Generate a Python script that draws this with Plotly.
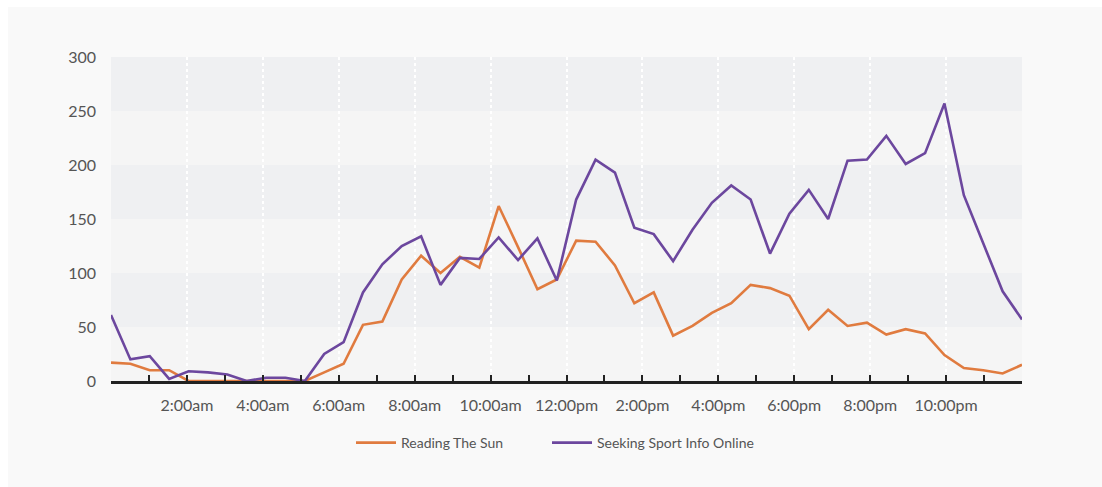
import plotly.graph_objects as go

# Half-hourly readings across the day (48 samples spanning midnight to midnight)
n_samples = 48
hours = [i * 24 / (n_samples - 1) for i in range(n_samples)]

reading_the_sun = [17, 16, 10, 10, 0, 0, 0, 0, 0, 0, 0, 8, 16, 52, 55, 94,
                   116, 100, 115, 105, 162, 124, 85, 94, 130, 129, 107, 72, 82, 42, 51, 63,
                   72, 89, 86, 79, 48, 66, 51, 54, 43, 48, 44, 24, 12, 10, 7, 15]

seeking_sport_online = [61, 20, 23, 2, 9, 8, 6, 0, 3, 3, 0, 25, 36, 82, 108, 125,
                        134, 89, 114, 113, 133, 112, 132, 93, 168, 205, 193, 142, 136, 111, 140, 165,
                        181, 168, 118, 155, 177, 150, 204, 205, 227, 201, 211, 257, 172, 127, 83, 57]

tick_hours = list(range(0, 26, 2))
tick_labels = ["", "2:00am", "4:00am", "6:00am", "8:00am", "10:00am", "12:00pm",
               "2:00pm", "4:00pm", "6:00pm", "8:00pm", "10:00pm", ""]
y_ticks = [0, 50, 100, 150, 200, 250, 300]

ORANGE = "#e07b3f"
PURPLE = "#6c479e"
TEXT = "#555555"
FONT = "Lato"

W, H = 1102, 487
ML, MR, MT, MB = 111, 80, 57, 106
pw, ph = W - ML - MR, H - MT - MB

fig = go.Figure()
fig.add_trace(go.Scatter(x=hours, y=reading_the_sun, mode="lines", name="Reading The Sun",
                         line=dict(color=ORANGE, width=2.6), legend="legend"))
fig.add_trace(go.Scatter(x=hours, y=seeking_sport_online, mode="lines", name="Seeking Sport Info Online",
                         line=dict(color=PURPLE, width=2.6), legend="legend2"))

shapes = [
    # light card behind the whole chart
    dict(type="rect", xref="paper", yref="paper", layer="below",
         x0=(8 - ML) / pw, x1=(W - ML) / pw, y0=-(MB + 5) / ph, y1=1 + (MT - 7) / ph,
         fillcolor="#f9f9f9", line=dict(width=0)),
    # plot background
    dict(type="rect", xref="paper", yref="paper", layer="below",
         x0=0, x1=1, y0=0, y1=1, fillcolor="#f5f5f5", line=dict(width=0)),
]
# alternating horizontal bands
for lo in (50, 150, 250):
    shapes.append(dict(type="rect", xref="paper", yref="y", layer="below",
                       x0=0, x1=1, y0=lo, y1=lo + 50, fillcolor="#eff0f2", line=dict(width=0)))

legend_y = -(443 - (MT + ph)) / ph
legend_style = dict(orientation="h", xanchor="left", y=legend_y, yanchor="middle",
                    font=dict(family=FONT, size=14, color=TEXT),
                    bgcolor="rgba(0,0,0,0)", itemwidth=40)

fig.update_layout(
    width=W, height=H,
    margin=dict(l=ML, r=MR, t=MT, b=MB, pad=0),
    paper_bgcolor="#ffffff",
    plot_bgcolor="rgba(0,0,0,0)",
    font=dict(family=FONT, color=TEXT, size=16),
    shapes=shapes,
    showlegend=True,
    legend=dict(x=(351 - ML) / pw, **legend_style),
    legend2=dict(x=(547 - ML) / pw, **legend_style),
    xaxis=dict(range=[0, 24], tickmode="array", tickvals=tick_hours, ticktext=tick_labels,
               showgrid=True, gridcolor="#ffffff", griddash="dot", gridwidth=2,
               zeroline=False, showline=True, linecolor="#222222", linewidth=3,
               ticks="inside", ticklen=6, tickwidth=2, tickcolor="#222222",
               minor=dict(tickmode="array", tickvals=list(range(0, 25)), ticks="inside",
                          ticklen=6, tickwidth=2, tickcolor="#222222", showgrid=False),
               ticklabelstandoff=8,
               tickfont=dict(size=16, color=TEXT), fixedrange=True),
    yaxis=dict(range=[0, 300], tickmode="array", tickvals=y_ticks, showgrid=False,
               zeroline=False, showline=False, ticks="", ticklabelstandoff=14,
               tickfont=dict(size=16, color=TEXT), fixedrange=True),
)

fig.write_html("out.html")
